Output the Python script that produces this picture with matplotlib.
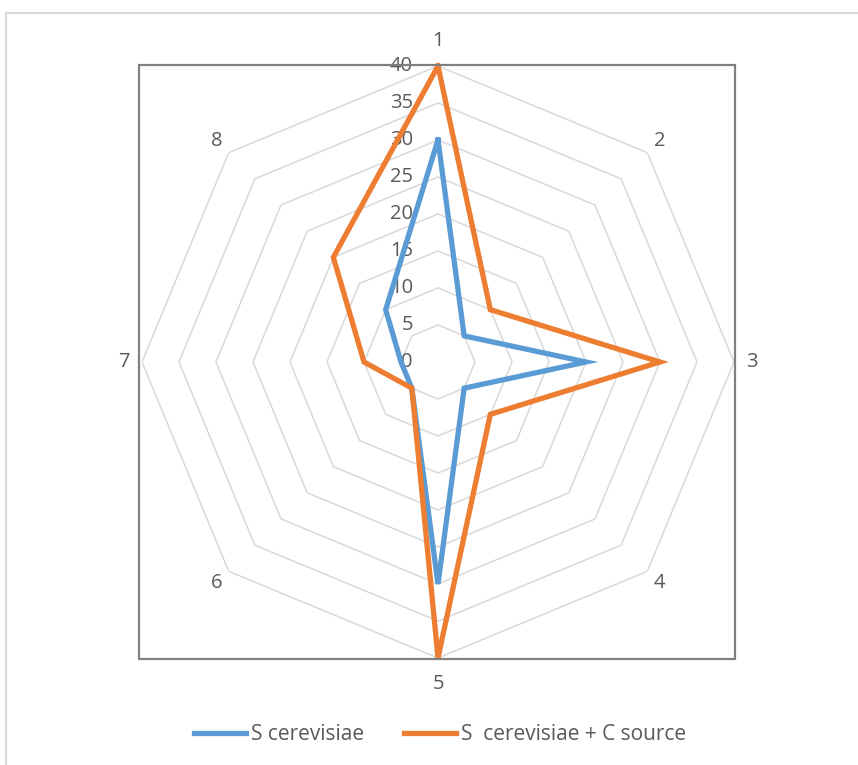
import numpy as np
import matplotlib.pyplot as plt
from matplotlib.patches import Rectangle
from matplotlib.lines import Line2D

plt.rcParams['font.family'] = ['Open Sans', 'DejaVu Sans']

categories = ['1', '2', '3', '4', '5', '6', '7', '8']
s_cerevisiae = [30, 5, 20, 5, 30, 5, 5, 10]
s_cerevisiae_c = [40, 10, 30, 10, 40, 5, 10, 20]
rings = [0, 5, 10, 15, 20, 25, 30, 35, 40]

blue = '#5b9bd5'
orange = '#ed7d31'
grey_txt = '#595959'

W, H = 858, 765
fig = plt.figure(figsize=(W / 100, H / 100), dpi=100)

# outer chart border
fig.patches.append(Rectangle((6 / W, -0.1), 1.0, (H - 13) / H + 0.1,
                             transform=fig.transFigure, fill=False,
                             edgecolor='#d9d9d9', linewidth=1.5))
# plot area frame
fig.patches.append(Rectangle((139 / W, (H - 659) / H), 596 / W, 594 / H,
                             transform=fig.transFigure, fill=False,
                             edgecolor='#808080', linewidth=1.6))

cx, cy, R = 438, 362, 296
ax = fig.add_axes([(cx - R) / W, (H - cy - R) / H, 2 * R / W, 2 * R / H],
                  projection='polar')
ax.set_theta_zero_location('N')
ax.set_theta_direction(-1)
ax.set_ylim(0, 40)
ax.grid(False)
ax.set_xticks([])
ax.set_yticks([])
ax.spines['polar'].set_visible(False)
ax.patch.set_alpha(0)

n = len(categories)
theta = np.arange(n) * 2 * np.pi / n
closed = np.append(theta, theta[0])

# octagonal gridlines
for r in rings[1:]:
    ax.plot(closed, [r] * (n + 1), color='#d9d9d9', linewidth=1.1, zorder=1)

ax.plot(closed, s_cerevisiae + s_cerevisiae[:1], color=blue, linewidth=3.8,
        solid_joinstyle='miter', zorder=3, clip_on=False)
ax.plot(closed, s_cerevisiae_c + s_cerevisiae_c[:1], color=orange,
        linewidth=3.8, solid_joinstyle='miter', zorder=4, clip_on=False)

# value labels along the first spoke
for r in rings:
    ax.annotate(str(r), xy=(0, r), xytext=(-25, 0), textcoords='offset pixels',
                ha='right', va='center', fontsize=14.5, color=grey_txt, zorder=2)

# category labels
pads = [25, 17, 18, 17, 26, 17, 18, 17]
for t, lab, p in zip(theta, categories, pads):
    dx, dy = np.sin(t) * p, np.cos(t) * p
    ax.annotate(lab, xy=(t, 40), xytext=(dx, dy), textcoords='offset pixels',
                ha='center', va='center', fontsize=14.5, color=grey_txt,
                annotation_clip=False)

handles = [Line2D([], [], color=blue, linewidth=3.8),
           Line2D([], [], color=orange, linewidth=3.8)]
fig.legend(handles, ['S cerevisiae', 'S  cerevisiae + C source'],
           loc='center', bbox_to_anchor=(440 / W, (H - 735) / H), ncol=2,
           frameon=False, fontsize=15, labelcolor=grey_txt,
           handlelength=2.5, handletextpad=0.25, columnspacing=1.9)

fig.savefig('out.png', dpi=100)
